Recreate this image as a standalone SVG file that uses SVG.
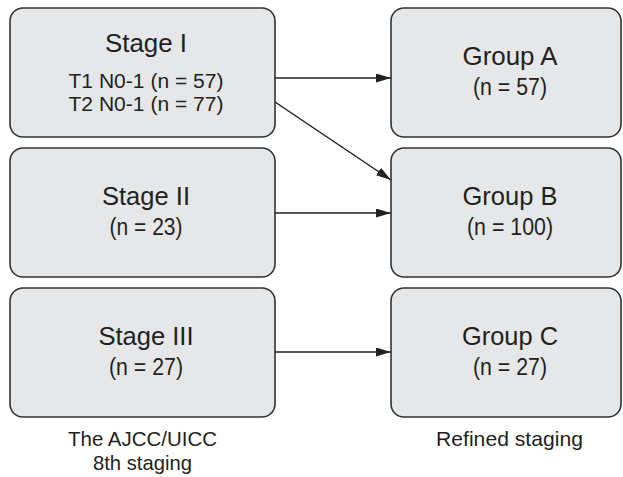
<svg xmlns="http://www.w3.org/2000/svg" width="623" height="477" viewBox="0 0 623 477">
<style>
.box{fill:#e6e7e8;stroke:#333;stroke-width:1.6}
.t{font-family:"Liberation Sans",Arial,sans-serif;fill:#231f20;text-anchor:middle}
.h{font-size:26px}
.s{font-size:23px}
.s2{font-size:20.5px}
.l{font-size:21px}
.c{stroke:#231f20;stroke-width:1.5;fill:none;marker-end:url(#ah)}
</style>
<defs>
<marker id="ah" markerWidth="15" markerHeight="9" refX="15" refY="4.5" orient="auto" markerUnits="userSpaceOnUse">
<path d="M0,0 L15,4.5 L0,9 Z" fill="#231f20"/>
</marker>
</defs>
<g id="stage1"><rect class="box" x="10" y="8" width="265" height="129" rx="13"/>
<text class="t h" x="146" y="52.3" textLength="82" lengthAdjust="spacingAndGlyphs">Stage I</text>
<text class="t s2" x="146" y="87.6" textLength="155" lengthAdjust="spacingAndGlyphs">T1 N0-1 (n = 57)</text>
<text class="t s2" x="146" y="111.4" textLength="155" lengthAdjust="spacingAndGlyphs">T2 N0-1 (n = 77)</text></g>
<g id="stage2"><rect class="box" x="10" y="148" width="265" height="129" rx="13"/>
<text class="t h" x="146" y="205" textLength="88" lengthAdjust="spacingAndGlyphs">Stage II</text>
<text class="t s" x="146" y="235" textLength="73" lengthAdjust="spacingAndGlyphs">(n = 23)</text></g>
<g id="stage3"><rect class="box" x="10" y="288" width="265" height="129" rx="13"/>
<text class="t h" x="146" y="345" textLength="95" lengthAdjust="spacingAndGlyphs">Stage III</text>
<text class="t s" x="146" y="375" textLength="74" lengthAdjust="spacingAndGlyphs">(n = 27)</text></g>
<g id="groupA"><rect class="box" x="391" y="8" width="230" height="129" rx="13"/>
<text class="t h" x="510" y="65" textLength="95" lengthAdjust="spacingAndGlyphs">Group A</text>
<text class="t s" x="510" y="95" textLength="74" lengthAdjust="spacingAndGlyphs">(n = 57)</text></g>
<g id="groupB"><rect class="box" x="391" y="148" width="230" height="129" rx="13"/>
<text class="t h" x="510" y="205" textLength="95" lengthAdjust="spacingAndGlyphs">Group B</text>
<text class="t s" x="510" y="235" textLength="86" lengthAdjust="spacingAndGlyphs">(n = 100)</text></g>
<g id="groupC"><rect class="box" x="391" y="288" width="230" height="129" rx="13"/>
<text class="t h" x="510" y="345" textLength="96" lengthAdjust="spacingAndGlyphs">Group C</text>
<text class="t s" x="510" y="375" textLength="74" lengthAdjust="spacingAndGlyphs">(n = 27)</text></g>
<g id="connectors">
<line class="c" x1="275" y1="78" x2="391" y2="78"/>
<line class="c" x1="275" y1="102" x2="391" y2="180"/>
<line class="c" x1="275" y1="213" x2="391" y2="213"/>
<line class="c" x1="275" y1="352" x2="391" y2="352"/>
</g>
<g id="labels">
<text class="t l" x="142.5" y="446" textLength="149" lengthAdjust="spacingAndGlyphs">The AJCC/UICC</text>
<text class="t l" x="142.5" y="469.5" textLength="99" lengthAdjust="spacingAndGlyphs">8th staging</text>
<text class="t l" x="509.5" y="446" textLength="147" lengthAdjust="spacingAndGlyphs">Refined staging</text>
</g>
</svg>
